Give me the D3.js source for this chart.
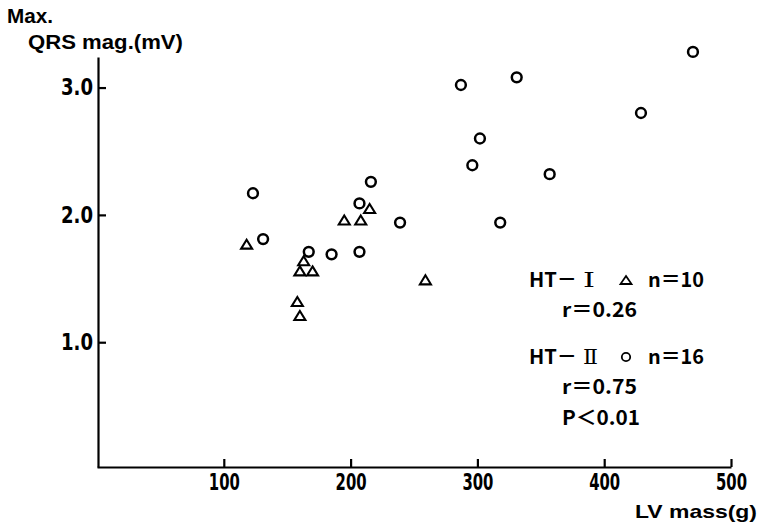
<!DOCTYPE html>
<html>
<head>
  <meta charset="UTF-8">
  <title>LV mass vs Max. QRS magnitude</title>
  <style>
    body { margin: 0; background: #fff; }
    .axis path, .axis line { stroke: #000; stroke-width: 2.2px; }
    .axis text {
      font-family: "Liberation Sans Narrow", "DejaVu Sans Condensed", "Liberation Sans", sans-serif;
      font-stretch: condensed;
      font-weight: bold;
      font-size: 23px;
      fill: #000;
    }
    .title {
      font-family: "Liberation Sans", Arial, sans-serif;
      font-weight: bold;
      fill: #000;
    }
    .legend {
      font-family: "Noto Sans CJK JP", "Liberation Sans Narrow", sans-serif;
      font-weight: bold;
      font-size: 20px;
      fill: #000;
    }
    .roman { font-family: "DejaVu Serif", "Liberation Serif", serif; font-weight: normal; }
    .mark { fill: none; stroke: #000; }
  </style>
</head>
<body>
  <svg width="759" height="531" id="chart"></svg>
  <script src="https://cdn.jsdelivr.net/npm/d3@7/dist/d3.min.js"></script>
  <script>
    // HT-I (triangles)
    var htI_mass = [118, 195, 208, 215, 163, 160, 170, 158, 160, 259];
    var htI_qrs = [1.77, 1.96, 1.96, 2.05, 1.64, 1.56, 1.56, 1.32, 1.21, 1.49];

    // HT-II (circles)
    var htII_mass = [123, 216, 207, 131, 167, 185, 207, 239, 287, 331, 470, 429, 302, 296, 357, 318];
    var htII_qrs = [2.17, 2.26, 2.09, 1.81, 1.71, 1.69, 1.71, 1.94, 3.02, 3.08, 3.28, 2.80, 2.60, 2.39, 2.32, 1.94];

    var xTicks = [100, 200, 300, 400, 500];
    var yTicks = [1.0, 2.0, 3.0];

    var groupNames = ["HT－", "HT－"];
    var romanNames = ["Ⅰ", "Ⅱ"];
    var nLabels = ["n＝10", "n＝16"];
    var statLabels = [["r＝0.26"], ["r＝0.75", "P＜0.01"]];

    var svg = d3.select("#chart");

    var x = d3.scaleLinear().domain([0, 500]).range([97, 731]);
    var y = d3.scaleLinear().domain([0.02, 3.24]).range([467, 57]);

    // axes
    var xAxis = svg.append("g")
      .attr("class", "axis")
      .attr("transform", "translate(0,467)")
      .call(d3.axisBottom(x).tickValues(xTicks).tickSizeInner(-8).tickSizeOuter(0).tickPadding(7));
    xAxis.selectAll(".tick text")
      .attr("textLength", 31)
      .attr("lengthAdjust", "spacingAndGlyphs");

    var yAxis = svg.append("g")
      .attr("class", "axis")
      .attr("transform", "translate(98,0)")
      .call(d3.axisLeft(y).tickValues(yTicks).tickFormat(d3.format(".1f"))
        .tickSizeInner(-8).tickSizeOuter(0).tickPadding(5));
    yAxis.selectAll(".tick text")
      .attr("textLength", 32)
      .attr("lengthAdjust", "spacingAndGlyphs");

    // axis titles
    svg.append("text").attr("class", "title")
      .attr("x", 7).attr("y", 23)
      .attr("font-size", 20)
      .attr("textLength", 46).attr("lengthAdjust", "spacingAndGlyphs")
      .text("Max.");
    svg.append("text").attr("class", "title")
      .attr("x", 28).attr("y", 49)
      .attr("font-size", 21)
      .attr("textLength", 155).attr("lengthAdjust", "spacingAndGlyphs")
      .text("QRS  mag.(mV)");
    svg.append("text").attr("class", "title")
      .attr("x", 635).attr("y", 518)
      .attr("font-size", 19)
      .attr("textLength", 122).attr("lengthAdjust", "spacingAndGlyphs")
      .text("LV  mass(g)");

    // markers
    function triPath(w, h) {
      return "M0," + (-h / 2) + "L" + (w / 2) + "," + (h / 2) + "L" + (-w / 2) + "," + (h / 2) + "Z";
    }

    var triData = htI_mass.map(function (m, i) { return { mass: m, qrs: htI_qrs[i] }; });
    var circData = htII_mass.map(function (m, i) { return { mass: m, qrs: htII_qrs[i] }; });

    svg.append("g").selectAll("path").data(triData).enter()
      .append("path")
      .attr("class", "mark")
      .attr("stroke-width", 2.1)
      .attr("d", triPath(11, 9))
      .attr("transform", function (d) { return "translate(" + x(d.mass) + "," + y(d.qrs) + ")"; });

    svg.append("g").selectAll("circle").data(circData).enter()
      .append("circle")
      .attr("class", "mark")
      .attr("stroke-width", 2.5)
      .attr("r", 4.9)
      .attr("cx", function (d) { return x(d.mass); })
      .attr("cy", function (d) { return y(d.qrs); });

    // legend
    var leg = svg.append("g");
    var rowY = [287, 364];
    groupNames.forEach(function (name, i) {
      leg.append("text").attr("class", "legend")
        .attr("x", 529).attr("y", rowY[i])
        .attr("textLength", 48).attr("lengthAdjust", "spacingAndGlyphs")
        .text(name);
      leg.append("text").attr("class", "legend roman")
        .attr("x", 583).attr("y", rowY[i])
        .attr("font-size", 21)
        .attr("textLength", i === 0 ? 12 : 15).attr("lengthAdjust", "spacingAndGlyphs")
        .text(romanNames[i]);
      leg.append("text").attr("class", "legend")
        .attr("x", 648).attr("y", rowY[i])
        .attr("textLength", 56).attr("lengthAdjust", "spacingAndGlyphs")
        .text(nLabels[i]);
      if (i === 0) {
        leg.append("path").attr("class", "mark")
          .attr("stroke-width", 1.8)
          .attr("d", triPath(11, 8))
          .attr("transform", "translate(626," + (rowY[i] - 7) + ")");
      } else {
        leg.append("circle").attr("class", "mark")
          .attr("stroke-width", 1.8)
          .attr("r", 4.2)
          .attr("cx", 626).attr("cy", rowY[i] - 7);
      }
      statLabels[i].forEach(function (s, j) {
        leg.append("text").attr("class", "legend")
          .attr("x", 562).attr("y", rowY[i] + 30 + j * 31)
          .attr("textLength", s.charAt(0) === "P" ? 78 : 75).attr("lengthAdjust", "spacingAndGlyphs")
          .text(s);
      });
    });
  </script>
</body>
</html>
